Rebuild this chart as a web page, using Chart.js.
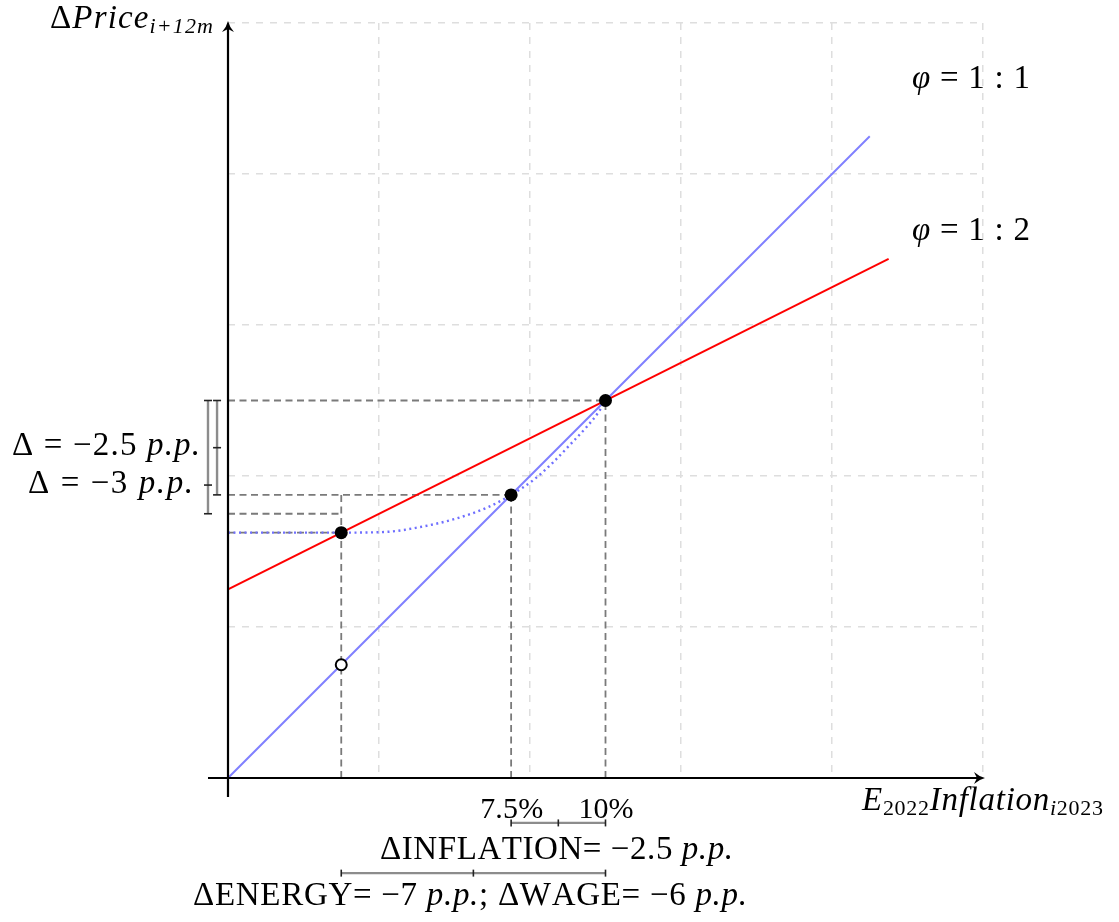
<!DOCTYPE html>
<html><head><meta charset="utf-8">
<script src="https://cdn.jsdelivr.net/npm/chart.js@4/dist/chart.umd.min.js"></script>
<style>html,body{margin:0;padding:0;background:#fff}</style>
</head><body>
<canvas id="c" width="1119" height="922"></canvas>
<script>
// ---- data (x = expected 2022 inflation %, y = price change %) ----
const phi11X = [0, 17];
const phi11Y = [0, 17];
const phi12X = [0, 17.5];
const phi12Y = [5, 13.75];
const pathX = [0, 3, 4.2, 5.1, 6, 6.9, 7.5, 8.1, 8.6, 9.1, 9.5, 9.8, 10];
const pathY = [6.5, 6.5, 6.52, 6.65, 6.86, 7.18, 7.5, 7.9, 8.35, 8.87, 9.3, 9.67, 10];
const markX = [3, 7.5, 10];
const markY = [6.5, 7.5, 10];
const openX = [3];
const openY = [3];
// guide lines: horizontal [y, x0, x1], vertical [x, y0, y1]
const guideH = [[10, 0, 10], [7.5, 0, 7.5], [7, 0, 3], [6.5, 0, 3]];
const guideV = [[10, 0, 10], [7.5, 0, 7.5], [3, 0, 7.5]];
// brackets: left [xValue, yFrom, yMid, yTo]; bottom [yValue, xFrom, xMid, xTo]
const bracketL = [[-0.53, 10, 7.76, 7], [-0.29, 10, 8.75, 7.5]];
const bracketB = [[-1.19, 7.5, 8.75, 10], [-2.52, 3, 6.5, 10]];
const phiLabels = ['1 : 1', '1 : 2'];
const xMarkLabels = ['7.5%', '10%'];

const toPts = (xs, ys) => xs.map((x, i) => ({x, y: ys[i]}));
const FAM = "'Liberation Serif', 'DejaVu Serif', serif";
const fnt = s => (s[1] === 'i' ? 'italic ' : '') + s[2] + 'px ' + FAM;

// draw mixed-style text starting at xLeft, stretched to targetW (never squeezed)
function rich(ctx, segs, xLeft, y, targetW) {
  const chars = [];
  let w = 0;
  for (const s of segs) {
    ctx.font = fnt(s);
    for (const ch of s[0]) {
      const cw = ctx.measureText(ch).width;
      chars.push([ch, fnt(s), s[3] || 0, cw]);
      w += cw;
    }
  }
  let gap = targetW ? (targetW - w) / Math.max(1, chars.length - 1) : 0;
  let sx = xLeft;
  if (gap < 0) { sx = xLeft + (targetW - w) / 2; gap = 0; }
  ctx.textBaseline = 'alphabetic';
  ctx.textAlign = 'left';
  ctx.fillStyle = '#000';
  for (const [ch, f, dy, cw] of chars) {
    ctx.font = f;
    ctx.fillText(ch, sx, y + dy);
    sx += cw + gap;
  }
}

const guidePlugin = {
  id: 'guides',
  beforeDatasetsDraw(chart) {
    const {ctx, scales: {x: xs, y: ys}} = chart;
    ctx.save();
    ctx.strokeStyle = '#7a7a7a';
    ctx.lineWidth = 1.8;
    ctx.setLineDash([7, 4.5]);
    for (const [y, x0, x1] of guideH) {
      ctx.beginPath();
      ctx.moveTo(xs.getPixelForValue(x0), ys.getPixelForValue(y));
      ctx.lineTo(xs.getPixelForValue(x1), ys.getPixelForValue(y));
      ctx.stroke();
    }
    for (const [x, y0, y1] of guideV) {
      ctx.beginPath();
      ctx.moveTo(xs.getPixelForValue(x), ys.getPixelForValue(y0));
      ctx.lineTo(xs.getPixelForValue(x), ys.getPixelForValue(y1));
      ctx.stroke();
    }
    ctx.restore();
  }
};

function arrowHead(ctx, x, y, ang) {
  ctx.save();
  ctx.translate(x, y);
  ctx.rotate(ang);
  ctx.beginPath();
  ctx.moveTo(2, 0);
  ctx.quadraticCurveTo(-4, -1.5, -9, -6);
  ctx.lineTo(-6, 0);
  ctx.lineTo(-9, 6);
  ctx.quadraticCurveTo(-4, 1.5, 2, 0);
  ctx.closePath();
  ctx.fillStyle = '#000';
  ctx.fill();
  ctx.restore();
}

const annotPlugin = {
  id: 'annot',
  afterDatasetsDraw(chart) {
    const {ctx, scales: {x: xs, y: ys}} = chart;
    const px = v => xs.getPixelForValue(v);
    const py = v => ys.getPixelForValue(v);
    ctx.save();
    // axes
    ctx.strokeStyle = '#000';
    ctx.lineWidth = 2.2;
    ctx.setLineDash([]);
    ctx.beginPath();
    ctx.moveTo(px(-0.53), py(0)); ctx.lineTo(px(20) - 3, py(0));
    ctx.moveTo(px(0), py(-0.5)); ctx.lineTo(px(0), py(20) + 3);
    ctx.stroke();
    arrowHead(ctx, px(20), py(0), 0);
    arrowHead(ctx, px(0), py(20), -Math.PI / 2);

    // brackets
    const br = (x0, y0, x1, y1, ticks, vertical) => {
      ctx.strokeStyle = '#8c8c8c';
      ctx.lineWidth = 2.4;
      ctx.beginPath(); ctx.moveTo(x0, y0); ctx.lineTo(x1, y1); ctx.stroke();
      ctx.strokeStyle = '#222';
      ctx.lineWidth = 1.6;
      for (const t of ticks) {
        ctx.beginPath();
        if (vertical) { ctx.moveTo(x0 - 4, t); ctx.lineTo(x0 + 4, t); }
        else { ctx.moveTo(t, y0 - 3.5); ctx.lineTo(t, y0 + 3.5); }
        ctx.stroke();
      }
    };
    for (const [xv, a, m, b] of bracketL) {
      br(px(xv), py(a), px(xv), py(b), [py(a), py(m), py(b)], true);
    }
    for (const [yv, a, m, b] of bracketB) {
      br(px(a), py(yv), px(b), py(yv), [px(a), px(m), px(b)], false);
    }

    // texts
    const S = 33, s = 22;
    rich(ctx, [['Δ', 'n', S], ['Price', 'i', S], ['i+12m', 'i', s, 5]], 50, 28, 163);
    rich(ctx, [['E', 'i', S], ['2022', 'n', s, 5], ['Inflation', 'i', S], ['i', 'i', s, 5], ['2023', 'n', s, 5]], 862, 810, 241);
    rich(ctx, [['φ', 'i', S], [' = ' + phiLabels[0], 'n', S]], 912, 88, 118);
    rich(ctx, [['φ', 'i', S], [' = ' + phiLabels[1], 'n', S]], 912, 240, 118);
    rich(ctx, [['Δ = −2.5 ', 'n', S], ['p.p.', 'i', S]], 12, 455, 188);
    rich(ctx, [['Δ = −3 ', 'n', S], ['p.p.', 'i', S]], 28, 493, 165);
    rich(ctx, [[xMarkLabels[0], 'n', 30]], px(7.5) - 31, 818, 63);
    rich(ctx, [[xMarkLabels[1], 'n', 30]], px(10) - 27, 818, 55);
    rich(ctx, [['ΔINFLATION= −2.5 ', 'n', S], ['p.p.', 'i', S]], 380, 859, 353);
    rich(ctx, [['ΔENERGY= −7 ', 'n', S], ['p.p.', 'i', S], ['; ΔWAGE= −6 ', 'n', S], ['p.p.', 'i', S]], 193, 905, 554);
    ctx.restore();
  }
};

new Chart(document.getElementById('c'), {
  type: 'scatter',
  data: {
    datasets: [
      {data: toPts(markX, markY), pointRadius: 6.5, backgroundColor: '#000', borderColor: '#000', borderWidth: 0, showLine: false},
      {data: toPts(openX, openY), pointRadius: 5.5, backgroundColor: '#fff', borderColor: '#000', borderWidth: 2, showLine: false},
      {data: toPts(phi11X, phi11Y), showLine: true, borderColor: '#8080ff', borderWidth: 2, pointRadius: 0},
      {data: toPts(phi12X, phi12Y), showLine: true, borderColor: '#ff0000', borderWidth: 2, pointRadius: 0},
      {data: toPts(pathX, pathY), showLine: true, borderColor: '#6f6fff', borderWidth: 2.4, borderDash: [2, 3.5], pointRadius: 0, cubicInterpolationMode: 'monotone'}
    ]
  },
  options: {
    responsive: false,
    animation: false,
    layout: {padding: {left: 228, right: 136, top: 23, bottom: 144}},
    plugins: {legend: {display: false}, tooltip: {enabled: false}},
    scales: {
      x: {type: 'linear', min: 0, max: 20, ticks: {display: false, stepSize: 4},
          grid: {color: '#dedede', lineWidth: 1.5, drawTicks: false},
          border: {display: false, dash: [7, 7]}},
      y: {type: 'linear', min: 0, max: 20, ticks: {display: false, stepSize: 4},
          grid: {color: '#dedede', lineWidth: 1.5, drawTicks: false},
          border: {display: false, dash: [7, 7]}}
    }
  },
  plugins: [guidePlugin, annotPlugin]
});
</script>
</body></html>
